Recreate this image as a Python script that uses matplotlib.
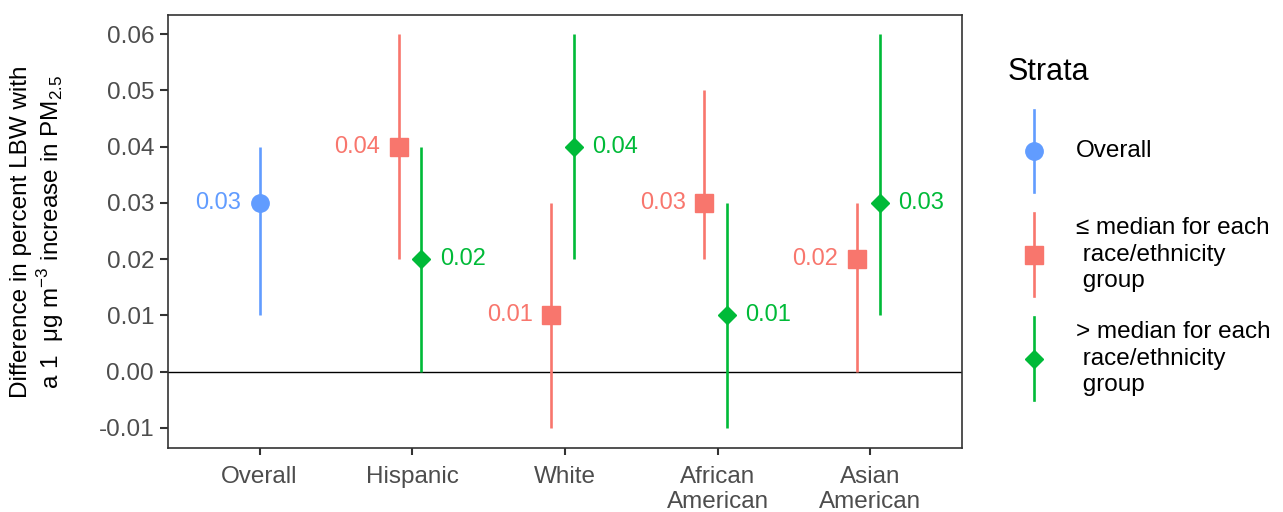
import numpy as np
import matplotlib.pyplot as plt
from matplotlib.lines import Line2D

plt.rcParams['font.family'] = ['Liberation Sans', 'DejaVu Sans']
plt.rcParams['mathtext.fontset'] = 'custom'
plt.rcParams['mathtext.rm'] = 'Liberation Sans'

groups = ["Overall", "Hispanic", "White", "African\nAmerican", "Asian\nAmerican"]

# Overall estimate
overall_est = [0.03]
overall_lo = [0.01]
overall_hi = [0.04]

# <= median strata (Hispanic, White, African American, Asian American)
low_est = [0.04, 0.01, 0.03, 0.02]
low_lo = [0.02, -0.01, 0.02, 0.00]
low_hi = [0.06, 0.03, 0.05, 0.03]

# > median strata
high_est = [0.02, 0.04, 0.01, 0.03]
high_lo = [0.00, 0.02, -0.01, 0.01]
high_hi = [0.04, 0.06, 0.03, 0.06]

c_blue = '#619CFF'
c_red = '#F8766D'
c_green = '#00BA38'

fig = plt.figure(figsize=(12.83, 5.12), dpi=100)
ax = fig.add_axes([168/1283, 1 - 448/512, (962-168)/1283, (448-15)/512])

x_all = np.arange(1, 6)
x_sub = x_all[1:]
d_low, d_high = -0.09, 0.06

ax.axhline(0, color='black', lw=1.0, zorder=1)

ax.vlines(x_all[:1], overall_lo, overall_hi, color=c_blue, lw=1.9)
ax.plot(x_all[:1], overall_est, 'o', color=c_blue, ms=12.5)
ax.vlines(x_sub + d_low, low_lo, low_hi, color=c_red, lw=1.9)
ax.plot(x_sub + d_low, low_est, 's', color=c_red, ms=12.5)
ax.vlines(x_sub + d_high, high_lo, high_hi, color=c_green, lw=1.9)
ax.plot(x_sub + d_high, high_est, 'D', color=c_green, ms=9)

lab_kw = dict(fontsize=17, va='center')
for x, y in zip(x_all[:1], overall_est):
    ax.text(x - 0.12, y, f"{y:.2f}", color=c_blue, ha='right', **lab_kw)
for x, y in zip(x_sub + d_low, low_est):
    ax.text(x - 0.12, y, f"{y:.2f}", color=c_red, ha='right', **lab_kw)
for x, y in zip(x_sub + d_high, high_est):
    ax.text(x + 0.12, y, f"{y:.2f}", color=c_green, ha='left', **lab_kw)

ax.set_xlim(0.4, 5.6)
ax.set_ylim(-0.0136, 0.0634)
ax.set_xticks(x_all)
ax.set_xticklabels(groups, fontsize=17.5, color='#4D4D4D', linespacing=1.2)
ax.set_yticks(np.arange(-0.01, 0.061, 0.01))
ax.set_yticklabels([f"{v:.2f}" for v in np.arange(-0.01, 0.061, 0.01)], fontsize=17.5, color='#4D4D4D')
ax.tick_params(axis='y', length=6, color='#333333', width=1.5, pad=4)
ax.tick_params(axis='x', length=5, color='#333333', width=1.5, pad=8)
for s in ax.spines.values():
    s.set_color('#333333')
    s.set_linewidth(1.2)

fig.text(38/1283, 1 - 232/512,
         "Difference in percent LBW with\na 1  \u03bcg m$^{-3}$ increase in PM$_{2.5}$",
         rotation=90, ha='center', va='center', fontsize=17.5, linespacing=1.15)

# legend drawn by hand
W, H = 1283, 512
def fx(px):
    return px / W
def fy(py):
    return 1 - py / H

fig.text(fx(1008), fy(72), "Strata", fontsize=22, va='center', ha='left')
entries = [
    (c_blue, 'o', 12.5, 110, 192, ["Overall"]),
    (c_red, 's', 12.5, 213, 296, ["\u2264 median for each", " race/ethnicity", " group"]),
    (c_green, 'D', 9, 317, 400, ["> median for each", " race/ethnicity", " group"]),
]
for col, mk, ms, y0, y1, lines in entries:
    fig.add_artist(Line2D([fx(1034), fx(1034)], [fy(y0), fy(y1)], color=col, lw=1.9,
                          transform=fig.transFigure))
    ym = (y0 + y1) / 2
    fig.add_artist(Line2D([fx(1034)], [fy(ym)], marker=mk, color=col, ms=ms,
                          transform=fig.transFigure))
    fig.text(fx(1076), fy(ym), "\n".join(lines), fontsize=17.5, va='center', ha='left',
             linespacing=1.27)

fig.savefig("out.png", dpi=100)
